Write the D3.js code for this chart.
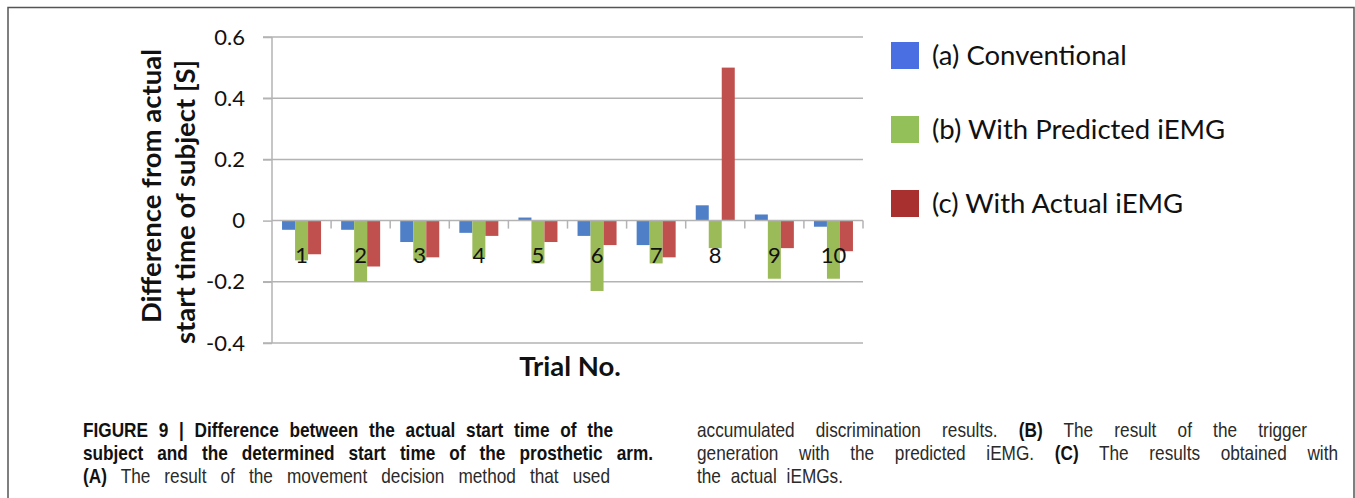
<!DOCTYPE html>
<html>
<head>
<meta charset="utf-8">
<script src="https://cdn.jsdelivr.net/npm/d3@7"></script>
<style>
  body { margin: 0; background: #fff; }
  svg { display: block; }
</style>
</head>
<body>
<div id="chart"></div>
<script>
// Data
var trials = ["1", "2", "3", "4", "5", "6", "7", "8", "9", "10"];
var seriesNames = ["(a) Conventional", "(b) With Predicted iEMG", "(c) With Actual iEMG"];
var conventional = [-0.03, -0.03, -0.07, -0.04, 0.01, -0.05, -0.08, 0.05, 0.02, -0.02];
var predicted    = [-0.13, -0.20, -0.13, -0.12, -0.14, -0.23, -0.14, -0.09, -0.19, -0.19];
var actual       = [-0.11, -0.15, -0.12, -0.05, -0.07, -0.08, -0.12, 0.50, -0.09, -0.10];
var yTicks = [-0.4, -0.2, 0, 0.2, 0.4, 0.6];

var barColors = ["#4f7fc6", "#9bbb59", "#c0504d"];
var legendColors = ["#4a6fe3", "#94c05a", "#a8302f"];

var svgWidth = 1355, svgHeight = 498;
var plot = { left: 272, right: 863, top: 37, bottom: 343 };

var svg = d3.select("#chart").append("svg")
    .attr("width", svgWidth)
    .attr("height", svgHeight);

// outer frame
svg.append("rect")
    .attr("x", 8).attr("y", 7.5)
    .attr("width", 1346).attr("height", 520)
    .attr("fill", "none")
    .attr("stroke", "#555")
    .attr("stroke-width", 1.5);

var values = [conventional, predicted, actual];
var data = trials.map(function(t, i) {
  return { trial: t, vals: values.map(function(s) { return s[i]; }) };
});

// scales
var x0 = d3.scaleBand()
    .domain(trials)
    .range([plot.left, plot.right])
    .paddingInner(0.34)
    .paddingOuter(0.17);

var x1 = d3.scaleBand()
    .domain(d3.range(seriesNames.length))
    .range([0, x0.bandwidth()]);

var y = d3.scaleLinear()
    .domain([-0.4, 0.6])
    .range([plot.bottom, plot.top]);

var chartFont = "Lato, 'Open Sans', sans-serif";

// gridlines (not at zero, that's the category axis)
svg.append("g")
  .selectAll("line")
  .data(yTicks.filter(function(d) { return d !== 0; }))
  .enter()
  .append("line")
    .attr("x1", plot.left - 9).attr("x2", plot.right)
    .attr("y1", function(d) { return y(d); })
    .attr("y2", function(d) { return y(d); })
    .attr("stroke", "#b3b3b3")
    .attr("stroke-width", 1.5);

// y axis, plain hyphen for negatives like the original
var yAxis = d3.axisLeft(y)
    .tickValues(yTicks)
    .tickSize(9)
    .tickPadding(18)
    .tickFormat(function(d) { return d === 0 ? "0" : d.toFixed(1); });

var yAxisG = svg.append("g")
    .attr("transform", "translate(" + plot.left + ",0)")
    .call(yAxis);
yAxisG.select(".domain").attr("stroke", "#b3b3b3").attr("stroke-width", 1.5)
    .attr("d", "M0," + plot.top + "V" + plot.bottom);
yAxisG.selectAll(".tick line").attr("stroke", "#b3b3b3").attr("stroke-width", 1.5);
yAxisG.selectAll(".tick text")
    .attr("font-family", chartFont)
    .attr("font-size", 22)
    .attr("fill", "#111");

// bars
var groups = svg.append("g")
  .selectAll("g")
  .data(data)
  .enter()
  .append("g")
    .attr("transform", function(d) { return "translate(" + x0(d.trial) + ",0)"; });

groups.selectAll("rect")
  .data(function(d) { return d.vals; })
  .enter()
  .append("rect")
    .attr("x", function(d, i) { return x1(i); })
    .attr("width", x1.bandwidth())
    .attr("y", function(d) { return y(Math.max(0, d)); })
    .attr("height", function(d) { return Math.abs(y(d) - y(0)); })
    .attr("fill", function(d, i) { return barColors[i]; });

// category axis at zero with ticks between groups
var boundaries = trials.map(function(t) { return x0(t) - x0.step() * x0.paddingInner() / 2; });
boundaries.push(plot.right);
svg.append("line")
    .attr("x1", plot.left).attr("x2", plot.right)
    .attr("y1", y(0)).attr("y2", y(0))
    .attr("stroke", "#b3b3b3").attr("stroke-width", 1.5);
svg.append("g")
  .selectAll("line")
  .data(boundaries.slice(1))
  .enter()
  .append("line")
    .attr("x1", function(d) { return d; }).attr("x2", function(d) { return d; })
    .attr("y1", y(0)).attr("y2", y(0) + 8)
    .attr("stroke", "#b3b3b3").attr("stroke-width", 1.5);

// category labels
svg.append("g")
  .selectAll("text")
  .data(trials)
  .enter()
  .append("text")
    .attr("x", function(d) { return x0(d) + x0.bandwidth() / 2; })
    .attr("y", 263)
    .attr("text-anchor", "middle")
    .attr("font-family", chartFont)
    .attr("font-size", 22)
    .attr("fill", "#111")
    .text(function(d) { return d; });

// axis titles
svg.append("text")
    .attr("transform", "translate(161,186) rotate(-90)")
    .attr("text-anchor", "middle")
    .attr("font-family", chartFont)
    .attr("font-weight", "bold")
    .attr("font-size", 27.5)
    .attr("fill", "#111")
    .text("Difference from actual");
svg.append("text")
    .attr("transform", "translate(195,202) rotate(-90)")
    .attr("text-anchor", "middle")
    .attr("font-family", chartFont)
    .attr("font-weight", "bold")
    .attr("font-size", 27.5)
    .attr("fill", "#111")
    .text("start time of subject [S]");
svg.append("text")
    .attr("x", 570).attr("y", 376)
    .attr("text-anchor", "middle")
    .attr("font-family", chartFont)
    .attr("font-weight", "bold")
    .attr("font-size", 27.5)
    .attr("fill", "#111")
    .text("Trial No.");

// legend
var legend = svg.append("g")
  .selectAll("g")
  .data(seriesNames)
  .enter()
  .append("g")
    .attr("transform", function(d, i) { return "translate(891," + (42 + i * 74) + ")"; });
legend.append("rect")
    .attr("width", 28).attr("height", 27)
    .attr("fill", function(d, i) { return legendColors[i]; });
legend.append("text")
    .attr("x", 41).attr("y", 23)
    .attr("font-family", chartFont)
    .attr("font-size", 27.5)
    .attr("fill", "#111")
    .text(function(d) { return d; });

// caption, justified lines
var captionLines = [
  { x: 83, y: 437, w: 530, parts: [["FIGURE 9 | Difference between the actual start time of the", true]] },
  { x: 83, y: 460, w: 570, parts: [["subject and the determined start time of the prosthetic arm.", true]] },
  { x: 83, y: 483, w: 527, parts: [["(A)", true], [" The result of the movement decision method that used", false]] },
  { x: 697, y: 437, w: 610, parts: [["accumulated discrimination results. ", false], ["(B)", true], [" The result of the trigger", false]] },
  { x: 697, y: 460, w: 641, parts: [["generation with the predicted iEMG. ", false], ["(C)", true], [" The results obtained with", false]] },
  { x: 697, y: 483, w: 146, parts: [["the actual iEMGs.", false]] }
];
var squeeze = 0.82;

captionLines.forEach(function(line) {
  var t = svg.append("text")
      .attr("transform", "translate(" + line.x + "," + line.y + ") scale(" + squeeze + ",1)")
      .attr("font-family", "'Liberation Sans', Arial, sans-serif")
      .attr("font-size", 21);
  line.parts.forEach(function(p) {
    t.append("tspan")
        .attr("font-weight", p[1] ? "bold" : "normal")
        .attr("fill", p[1] ? "#111" : "#2a2a2a")
        .text(p[0]);
  });
  var natural = t.node().getComputedTextLength();
  var full = line.parts.map(function(p) { return p[0]; }).join("");
  var spaces = (full.match(/ /g) || []).length;
  var extra = (line.w / squeeze - natural) / spaces;
  t.attr("word-spacing", extra);
});
</script>
</body>
</html>
